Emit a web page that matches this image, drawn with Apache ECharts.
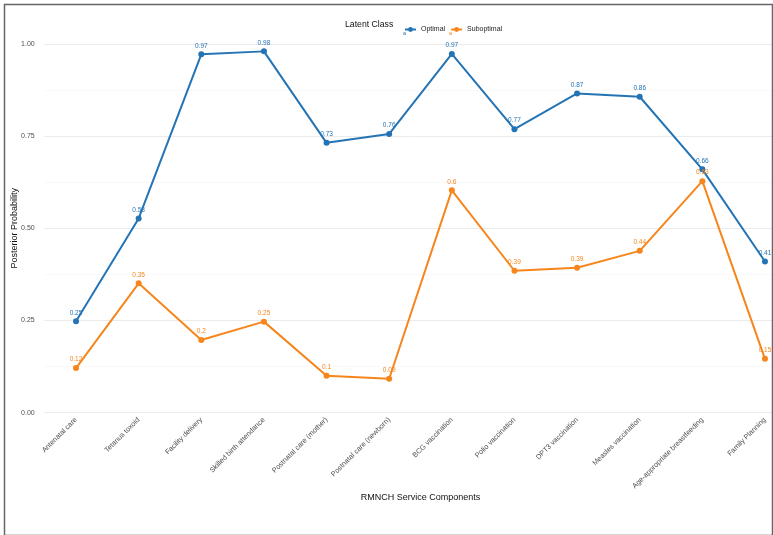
<!DOCTYPE html>
<html>
<head>
<meta charset="utf-8">
<script src="https://cdn.jsdelivr.net/npm/echarts@6/dist/echarts.min.js"></script>
<style>
  html, body { margin: 0; padding: 0; background: #fff; }
  #main { width: 773px; height: 535px; }
</style>
</head>
<body>
<div id="main"></div>
<script>
  // service components on the x axis
  var components = [
    'Antenatal care', 'Tetanus toxoid', 'Facility delivery', 'Skilled birth attendance',
    'Postnatal care (mother)', 'Postnatal care (newborn)', 'BCG vaccination', 'Polio vaccination',
    'DPT3 vaccination', 'Measles vaccination', 'Age-appropriate breastfeeding', 'Family Planning'
  ];
  var classNames = ['Optimal', 'Suboptimal'];
  var optimal = [0.248, 0.527, 0.972, 0.980, 0.732, 0.756, 0.973, 0.769, 0.866, 0.857, 0.660, 0.410];
  var suboptimal = [0.121, 0.351, 0.197, 0.247, 0.100, 0.092, 0.603, 0.385, 0.393, 0.439, 0.628, 0.146];
  var yTicks = [0, 0.25, 0.5, 0.75, 1];

  var colors = ['#2474B5', '#F6861C'];
  var font = 'Liberation Sans';

  function fmt(v) {
    return String(Number(v.toFixed(2)));
  }

  function makeSeries(name, values, color) {
    return {
      name: name,
      type: 'line',
      data: values,
      symbol: 'circle',
      symbolSize: 6,
      itemStyle: { color: color },
      lineStyle: { width: 2, color: color },
      label: {
        show: true,
        position: 'top',
        distance: 2,
        fontSize: 6.5,
        fontFamily: font,
        color: color,
        formatter: function (p) { return fmt(p.value); }
      },
      emphasis: { disabled: true },
      animation: false
    };
  }

  var myChart = echarts.init(document.getElementById('main'));
  var option = {
    backgroundColor: '#fff',
    textStyle: { fontFamily: font },
    grid: {
      left: 44.7, right: -23.3, top: 44, bottom: 122.3,
      containLabel: false,
      outerBoundsMode: 'none'
    },
    legend: {
      data: classNames,
      left: 399,
      top: 21,
      itemWidth: 11,
      itemHeight: 6,
      itemGap: 5,
      textStyle: { fontSize: 7, color: '#222', fontFamily: font }
    },
    xAxis: {
      type: 'category',
      data: components,
      boundaryGap: true,
      axisLine: { show: false },
      axisTick: { show: false },
      splitLine: { show: false },
      axisLabel: {
        rotate: 45,
        interval: 0,
        fontSize: 7.2,
        margin: 6,
        color: '#4d4d4d',
        fontFamily: font
      },
      name: 'RMNCH Service Components',
      nameLocation: 'middle',
      nameGap: 80,
      nameMoveOverlap: false,
      nameTextStyle: { fontSize: 9, color: '#111', fontFamily: font }
    },
    yAxis: {
      type: 'value',
      min: yTicks[0],
      max: yTicks[yTicks.length - 1],
      interval: 0.25,
      axisLine: { show: false },
      axisTick: { show: false },
      axisLabel: {
        fontSize: 7,
        margin: 10,
        color: '#4d4d4d',
        fontFamily: font,
        formatter: function (v) { return v.toFixed(2); }
      },
      splitLine: { lineStyle: { color: '#ebebeb', width: 1 } },
      minorTick: { show: false, splitNumber: 2 },
      minorSplitLine: { show: true, lineStyle: { color: '#f4f4f4', width: 0.6 } },
      name: 'Posterior Probability',
      nameLocation: 'middle',
      nameRotate: 90,
      nameGap: 26,
      nameMoveOverlap: false,
      nameTextStyle: { fontSize: 9, color: '#111', fontFamily: font }
    },
    graphic: [
      {
        type: 'text', left: 345, top: 20,
        style: { text: 'Latent Class', fontSize: 8.7, fill: '#111', fontFamily: font }
      },
      {
        type: 'text', left: 403, top: 30,
        style: { text: 'a', fontSize: 5.5, fill: colors[0], fontFamily: font }
      },
      {
        type: 'text', left: 449, top: 30,
        style: { text: 'a', fontSize: 5.5, fill: colors[1], fontFamily: font }
      },
      {
        type: 'rect', left: 2, top: 2, z: 100,
        shape: { width: 768, height: 531 },
        style: { fill: 'none', stroke: '#666', lineWidth: 1.5 }
      }
    ],
    series: [
      makeSeries(classNames[0], optimal, colors[0]),
      makeSeries(classNames[1], suboptimal, colors[1])
    ]
  };
  myChart.setOption(option);
</script>
</body>
</html>
